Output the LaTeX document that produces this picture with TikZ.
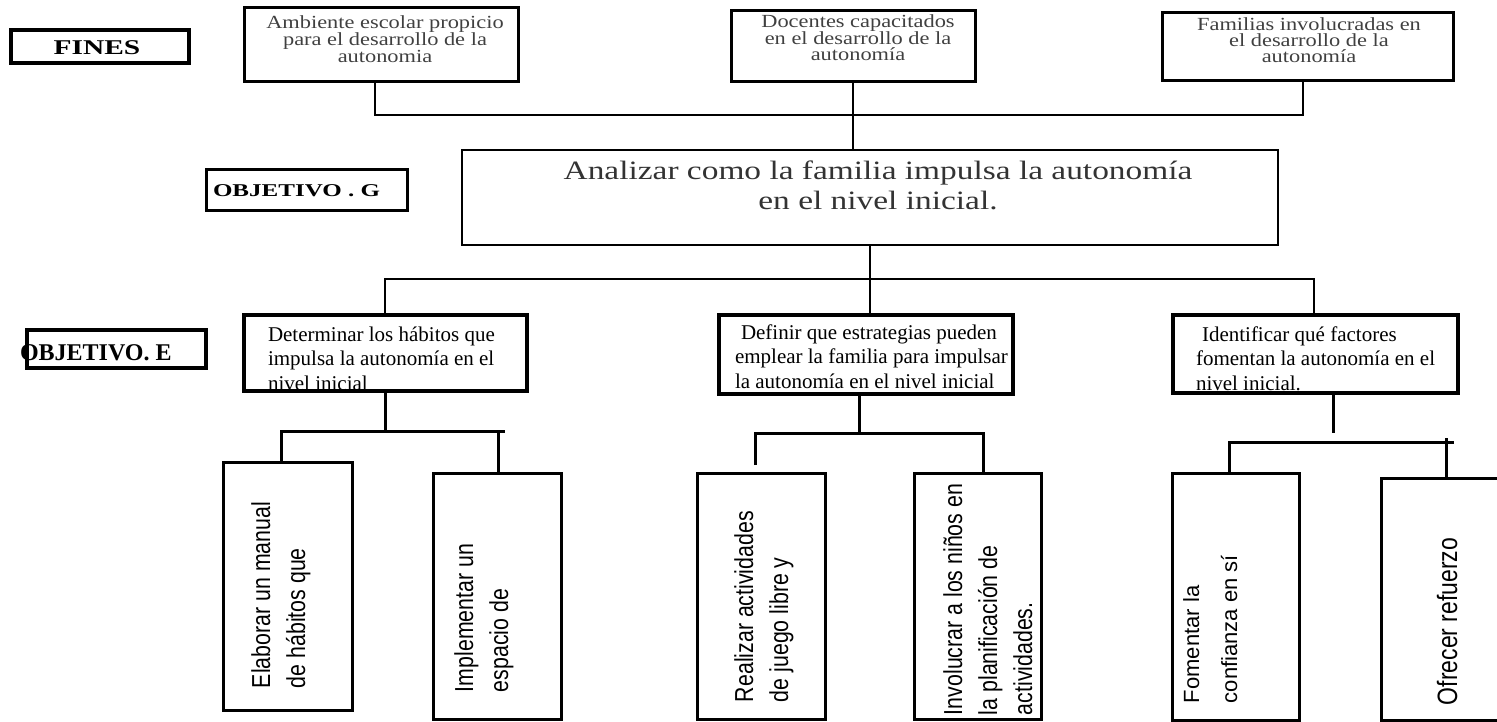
\documentclass[tikz,border=0pt]{standalone}
\usepackage{fontspec}
\setmainfont{Liberation Serif}
\newfontfamily\topfont{Liberation Serif}[FakeStretch=1.21]
\newfontfamily\mainfont{Liberation Serif}[FakeStretch=1.26]
\newfontfamily\labfont{Liberation Serif}[FakeStretch=1.4]
\newfontfamily\labfontG{Liberation Serif}[FakeStretch=1.39]
\newfontfamily\sansA{Liberation Sans}[FakeStretch=0.82]
\newfontfamily\sansB{Liberation Sans}
\begin{document}
\begin{tikzpicture}[x=1pt,y=-1pt,
  box/.style={draw, inner sep=0pt, outer sep=0pt, anchor=north west, line width=3pt},
  conn/.style={line width=2.5pt},
  connb/.style={line width=3pt},
  txt/.style={inner sep=0pt, outer sep=0pt},
  toptxt/.style={txt, align=center, anchor=base, text=black!75, font=\topfont\fontsize{18.5}{16}\selectfont},
  midtxt/.style={txt, align=left, anchor=base west, font=\fontsize{21}{24.5}\selectfont},
  rtxt/.style={txt, rotate=90, anchor=base west, align=left, font=\sansA\fontsize{26}{35}\selectfont}]
\useasboundingbox (0,0) rectangle (1497,722);
\clip (0,0) rectangle (1497,722);

% ---- labels
\node[box, line width=3.5pt, minimum width=178pt, minimum height=33pt] (fines) at (11,30) {};
\node[txt, anchor=base, font=\labfont\bfseries\fontsize{21}{24}\selectfont] (tfines) at (97,55) {FINES};
\node[box, minimum width=201pt, minimum height=41pt] (objg) at (206,170) {};
\node[txt, anchor=base west, font=\labfontG\bfseries\fontsize{18}{22}\selectfont] (tobjg) at (213,197) {OBJETIVO . G};
\node[box, line width=3.5pt, minimum width=179pt, minimum height=38pt] (obje) at (27,330) {};
\node[txt, anchor=base west, font=\bfseries\fontsize{24}{28}\selectfont] (tobje) at (20,360) {OBJETIVO. E};

% ---- fines (base anchor = last line)
\node[box, minimum width=274pt, minimum height=74pt] (A) at (244,8) {};
\node[toptxt] (tA) at (385,63) {Ambiente escolar propicio\\para el desarrollo de la\\autonomia};
\node[box, minimum width=244pt, minimum height=71pt] (D) at (731,11) {};
\node[toptxt] (tD) at (858,61) {Docentes capacitados\\en el desarrollo de la\\autonomía};
\node[box, minimum width=291pt, minimum height=68pt] (F) at (1162,13) {};
\node[toptxt] (tF) at (1309,63) {Familias involucradas en\\el desarrollo de la\\autonomía};

% ---- objetivo general
\node[box, line width=2.5pt, minimum width=816pt, minimum height=95pt] (main) at (462,150) {};
\node[txt, align=center, anchor=base, text=black!80, font=\mainfont\fontsize{26.5}{30}\selectfont] (tmain) at (878,210) {Analizar como la familia impulsa la autonomía\\en el nivel inicial.};

% ---- objetivos especificos
\node[box, line width=3.5pt, minimum width=283pt, minimum height=76pt] (Det) at (244,315) {};
\node[midtxt] (tDet) at (268,390) {Determinar los hábitos que\\impulsa la autonomía en el\\nivel inicial};
\node[box, line width=3.5pt, minimum width=294pt, minimum height=79pt] (Def) at (719,315) {};
\node[midtxt] (tDef) at (735,388) {\hspace*{6pt}Definir que estrategias pueden\\emplear la familia para impulsar\\la autonomía en el nivel inicial};
\node[box, line width=3.5pt, minimum width=285pt, minimum height=78pt] (Ide) at (1173,315) {};
\node[midtxt] (tIde) at (1196,390) {\hspace*{6pt}Identificar qué factores\\fomentan la autonomía en el\\nivel inicial.};

% ---- actividades (base anchor = last line, rightmost)
\node[box, minimum width=129pt, minimum height=248pt] (Ela) at (223,462) {};
\node[rtxt] (tEla) at (305,688) {Elaborar un manual\\de hábitos que};
\node[box, minimum width=128pt, minimum height=246pt] (Imp) at (433,473) {};
\node[rtxt] (tImp) at (508,692) {Implementar un\\espacio de};
\node[box, minimum width=128pt, minimum height=246pt] (Rea) at (697,473) {};
\node[rtxt] (tRea) at (788,702) {Realizar actividades\\de juego libre y};
\node[box, minimum width=127pt, minimum height=246pt] (Inv) at (914,473) {};
\node[rtxt] (tInv) at (1032,715) {Involucrar a los niños en\\la planificación de\\actividades.};
\node[box, minimum width=127pt, minimum height=247pt] (Fom) at (1172,473) {};
\node[rtxt, font=\sansB\fontsize{22}{38}\selectfont] (tFom) at (1237,703) {Fomentar la\\confianza en sí};
\node[box, minimum width=140pt, minimum height=242pt] (Ofr) at (1381,478) {};
\node[rtxt, font=\sansA\fontsize{28}{35}\selectfont] (tOfr) at (1457,705) {Ofrecer refuerzo};

% ---- connectors top
\coordinate (hA) at (375,115);
\coordinate (hF) at (1303,115);
\draw[conn] (A.south -| hA) -- (hA) -- (hF) -- (F.south -| hF);
\draw[conn] (D.south) -- (D.south |- main.north);

% ---- connectors objetivos
\coordinate (eL) at (385,279);
\coordinate (eR) at (1314,279);
\draw[conn] (main.south) -- (main.south |- Def.north);
\draw[conn] (Det.north -| eL) -- (eL) -- (eR) -- (Ide.north -| eR);

% ---- connectors Determinar
\coordinate (dc) at (385,431);
\coordinate (dl) at (281,431);
\coordinate (dr) at (505,431);
\coordinate (drd) at (498,431);
\draw[connb] (Det.south -| dc) -- (dc);
\draw[connb] (Ela.north -| dl) -- (dl) -- (dr);
\draw[connb] (drd) -- (Imp.north -| drd);

% ---- connectors Definir
\coordinate (fc) at (859,433);
\coordinate (fl) at (755,433);
\coordinate (fr) at (983,433);
\coordinate (fle) at (755,465);
\draw[connb] (Def.south -| fc) -- (fc);
\draw[connb] (fle) -- (fl) -- (fr) -- (Inv.north -| fr);

% ---- connectors Identificar
\coordinate (ic) at (1333,433);
\coordinate (il) at (1229,442);
\coordinate (ir) at (1454,442);
\coordinate (it) at (1446,438);
\draw[connb] (Ide.south -| ic) -- (ic);
\draw[connb] (Fom.north -| il) -- (il) -- (ir);
\draw[connb] (it) -- (Ofr.north -| it);
\end{tikzpicture}
\end{document}
